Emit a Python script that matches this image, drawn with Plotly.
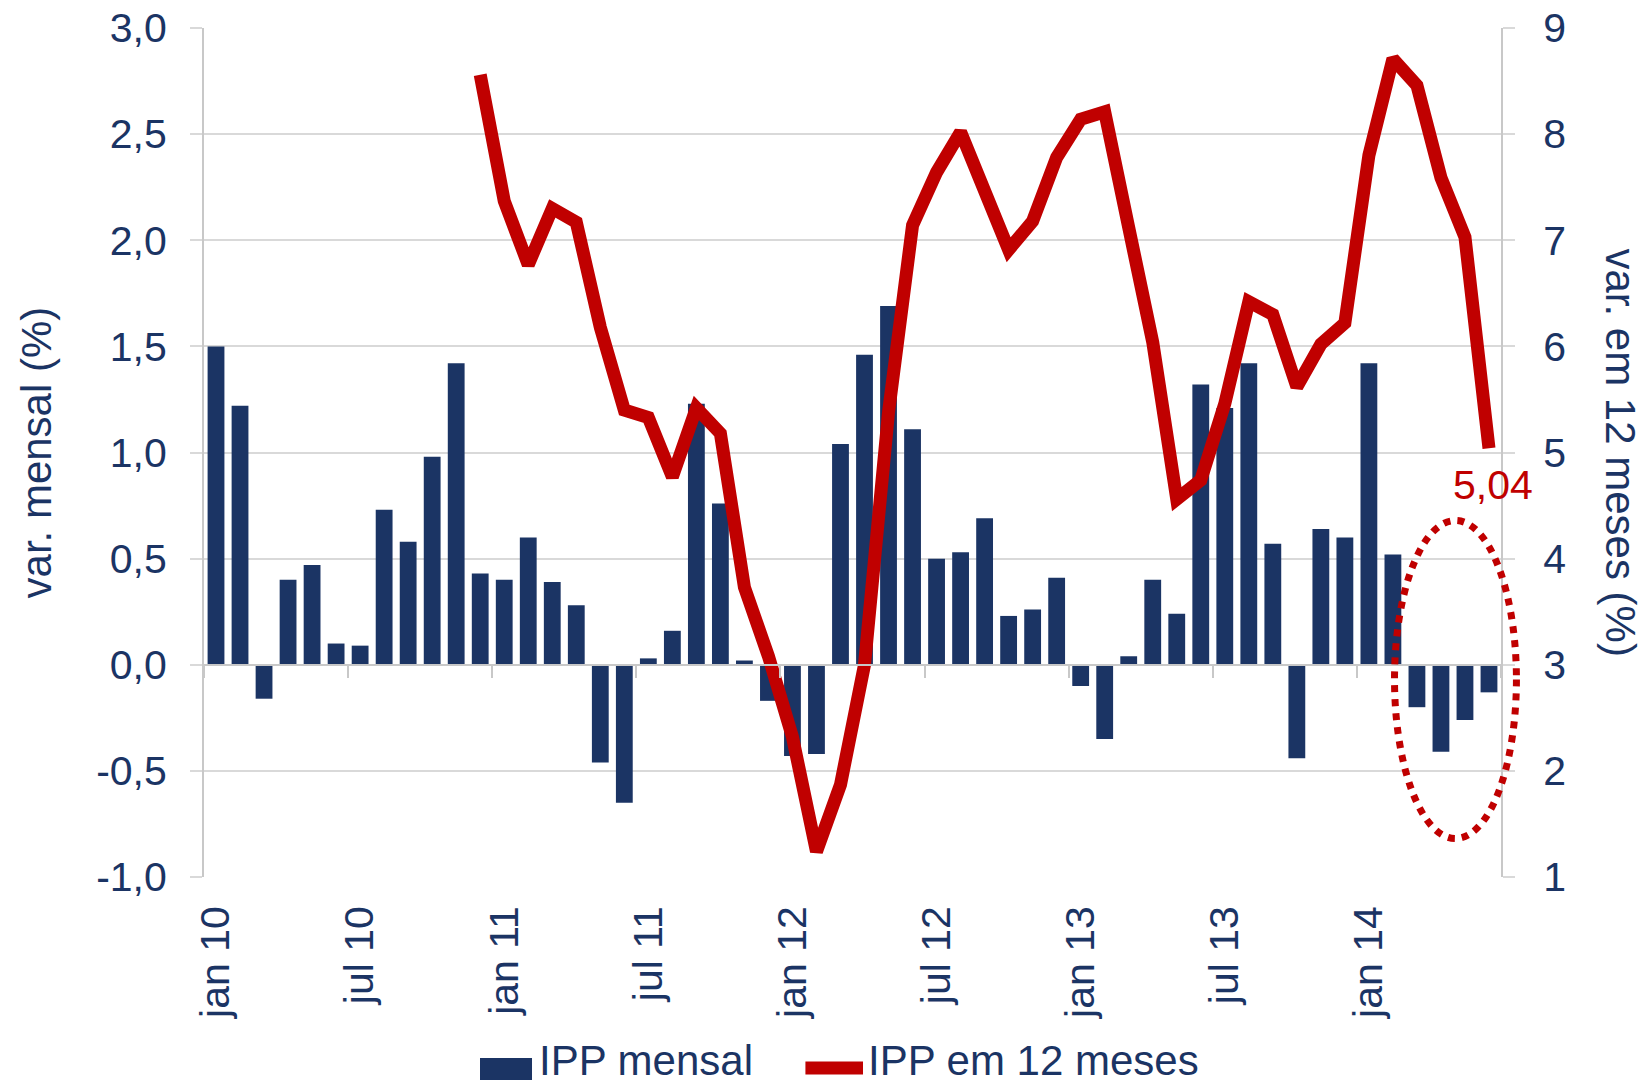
import plotly.graph_objects as go

# Monthly producer price index (IPP): monthly change and 12-month accumulated change
months = [
    "jan 10", "fev 10", "mar 10", "abr 10", "mai 10", "jun 10", "jul 10", "ago 10", "set 10", "out 10", "nov 10", "dez 10",
    "jan 11", "fev 11", "mar 11", "abr 11", "mai 11", "jun 11", "jul 11", "ago 11", "set 11", "out 11", "nov 11", "dez 11",
    "jan 12", "fev 12", "mar 12", "abr 12", "mai 12", "jun 12", "jul 12", "ago 12", "set 12", "out 12", "nov 12", "dez 12",
    "jan 13", "fev 13", "mar 13", "abr 13", "mai 13", "jun 13", "jul 13", "ago 13", "set 13", "out 13", "nov 13", "dez 13",
    "jan 14", "fev 14", "mar 14", "abr 14", "mai 14", "jun 14",
]

ipp_mensal = [
    1.50, 1.22, -0.16, 0.40, 0.47, 0.10, 0.09, 0.73, 0.58, 0.98, 1.42, 0.43,
    0.40, 0.60, 0.39, 0.28, -0.46, -0.65, 0.03, 0.16, 1.23, 0.76, 0.02, -0.17,
    -0.43, -0.42, 1.04, 1.46, 1.69, 1.11, 0.50, 0.53, 0.69, 0.23, 0.26, 0.41,
    -0.10, -0.35, 0.04, 0.40, 0.24, 1.32, 1.21, 1.42, 0.57, -0.44, 0.64, 0.60,
    1.42, 0.52, -0.20, -0.41, -0.26, -0.13,
]

ipp_12m = [
    None, None, None, None, None, None, None, None, None, None, None, 8.56,
    7.37, 6.77, 7.30, 7.17, 6.18, 5.40, 5.33, 4.77, 5.42, 5.18, 3.73, 3.08,
    2.32, 1.24, 1.87, 3.00, 5.38, 7.14, 7.64, 8.02, 7.45, 6.91, 7.18, 7.78,
    8.14, 8.21, 7.12, 6.04, 4.56, 4.74, 5.46, 6.42, 6.30, 5.62, 6.02, 6.22,
    7.80, 8.71, 8.46, 7.59, 7.03, 5.04,
]

x_tick_vals = months[::6]

left_tick_vals = [-1.0, -0.5, 0.0, 0.5, 1.0, 1.5, 2.0, 2.5, 3.0]
left_tick_text = ["-1,0", "-0,5", "0,0", "0,5", "1,0", "1,5", "2,0", "2,5", "3,0"]
right_tick_vals = [1, 2, 3, 4, 5, 6, 7, 8, 9]
right_tick_text = ["1", "2", "3", "4", "5", "6", "7", "8", "9"]

last_label = "5,04"

NAVY = "#1B3464"
RED = "#C00000"
GRID = "#D9D9D9"
AXIS = "#C8C8C8"
FONT = "Liberation Sans, Arial, sans-serif"
FS = 41

fig = go.Figure()

fig.add_trace(go.Bar(
    x=months, y=ipp_mensal, name="IPP mensal",
    marker=dict(color=NAVY, line=dict(width=0)),
    xaxis="x", yaxis="y", showlegend=False,
))

fig.add_trace(go.Scatter(
    x=months, y=ipp_12m, name="IPP em 12 meses", mode="lines",
    line=dict(color=RED, width=13),
    xaxis="x2", yaxis="y2", showlegend=False, connectgaps=False,
))

x_range = [-0.5, len(months) - 0.5]

fig.update_layout(
    width=1644, height=1087,
    margin=dict(l=204, r=143, t=28, b=210),
    paper_bgcolor="white", plot_bgcolor="white",
    font=dict(family=FONT, size=FS, color=NAVY),
    bargap=0.3,
    showlegend=False,
    xaxis=dict(
        type="category", categoryorder="array", categoryarray=months,
        range=x_range, automargin=False,
        tickmode="array", tickvals=x_tick_vals, ticktext=x_tick_vals,
        tickangle=-90, ticks="", showgrid=False, showline=False, zeroline=False,
        tickfont=dict(size=FS, color=NAVY), ticklabelstandoff=20,
    ),
    xaxis2=dict(
        type="category", categoryorder="array", categoryarray=months,
        range=x_range, overlaying="x", anchor="free", position=0.25,
        automargin=False,
        tickmode="linear", tick0=0, dtick=6, tickson="boundaries",
        ticks="outside", ticklen=12, tickwidth=2, tickcolor=AXIS,
        showticklabels=False, showgrid=False, zeroline=False,
        showline=True, linecolor=AXIS, linewidth=2,
    ),
    yaxis=dict(
        range=[-1.0, 3.0], automargin=False, tickmode="array",
        tickvals=left_tick_vals, ticktext=left_tick_text,
        showgrid=True, gridcolor=GRID, gridwidth=2, zeroline=False,
        showline=True, linecolor=AXIS, linewidth=2,
        ticks="outside", ticklen=12, tickwidth=2, tickcolor=GRID,
        tickfont=dict(size=FS, color=NAVY), ticklabelstandoff=15,
    ),
    yaxis2=dict(
        range=[1, 9], overlaying="y", side="right", anchor="x",
        automargin=False,
        tickmode="array", tickvals=right_tick_vals, ticktext=right_tick_text,
        showgrid=False, zeroline=False,
        showline=True, linecolor=AXIS, linewidth=2,
        ticks="outside", ticklen=12, tickwidth=2, tickcolor=GRID,
        tickfont=dict(size=FS, color=NAVY), ticklabelstandoff=20,
    ),
)

# axis titles
fig.add_annotation(
    text="var. mensal (%)", xref="paper", yref="paper", x=-0.1288, y=0.5,
    textangle=-90, showarrow=False, xanchor="center", yanchor="middle",
    font=dict(size=42, color=NAVY, family=FONT),
)
fig.add_annotation(
    text="var. em 12 meses (%)", xref="paper", yref="paper", x=1.0918, y=0.5,
    textangle=90, showarrow=False, xanchor="center", yanchor="middle",
    font=dict(size=42, color=NAVY, family=FONT),
)

# value label just below the end of the 12-month line
fig.add_annotation(
    text=last_label, xref="x2", yref="y2", x=months[-1], y=ipp_12m[-1],
    showarrow=False, xanchor="center", yanchor="middle", xshift=4, yshift=-37,
    font=dict(size=FS, color=RED, family=FONT),
)

# dotted ellipse highlighting the latest months
fig.add_shape(
    type="circle", xref="paper", yref="paper",
    x0=0.9179, x1=1.0119, y0=0.0453, y1=0.4199,
    line=dict(color=RED, width=7, dash="dot"), layer="above",
)

# legend drawn at the bottom
fig.add_shape(
    type="rect", xref="paper", yref="paper",
    x0=0.2128, x1=0.2529, y0=-0.2391, y1=-0.2132,
    fillcolor=NAVY, line=dict(width=0),
)
fig.add_annotation(
    text="IPP mensal", xref="paper", yref="paper", x=0.2567, y=-0.2160,
    showarrow=False, xanchor="left", yanchor="middle",
    font=dict(size=42, color=NAVY, family=FONT),
)
fig.add_shape(
    type="line", xref="paper", yref="paper",
    x0=0.4637, x1=0.5081, y0=-0.2250, y1=-0.2250,
    line=dict(color=RED, width=13),
)
fig.add_annotation(
    text="IPP em 12 meses", xref="paper", yref="paper", x=0.5104, y=-0.2160,
    showarrow=False, xanchor="left", yanchor="middle",
    font=dict(size=42, color=NAVY, family=FONT),
)

fig.write_html("out.html")
